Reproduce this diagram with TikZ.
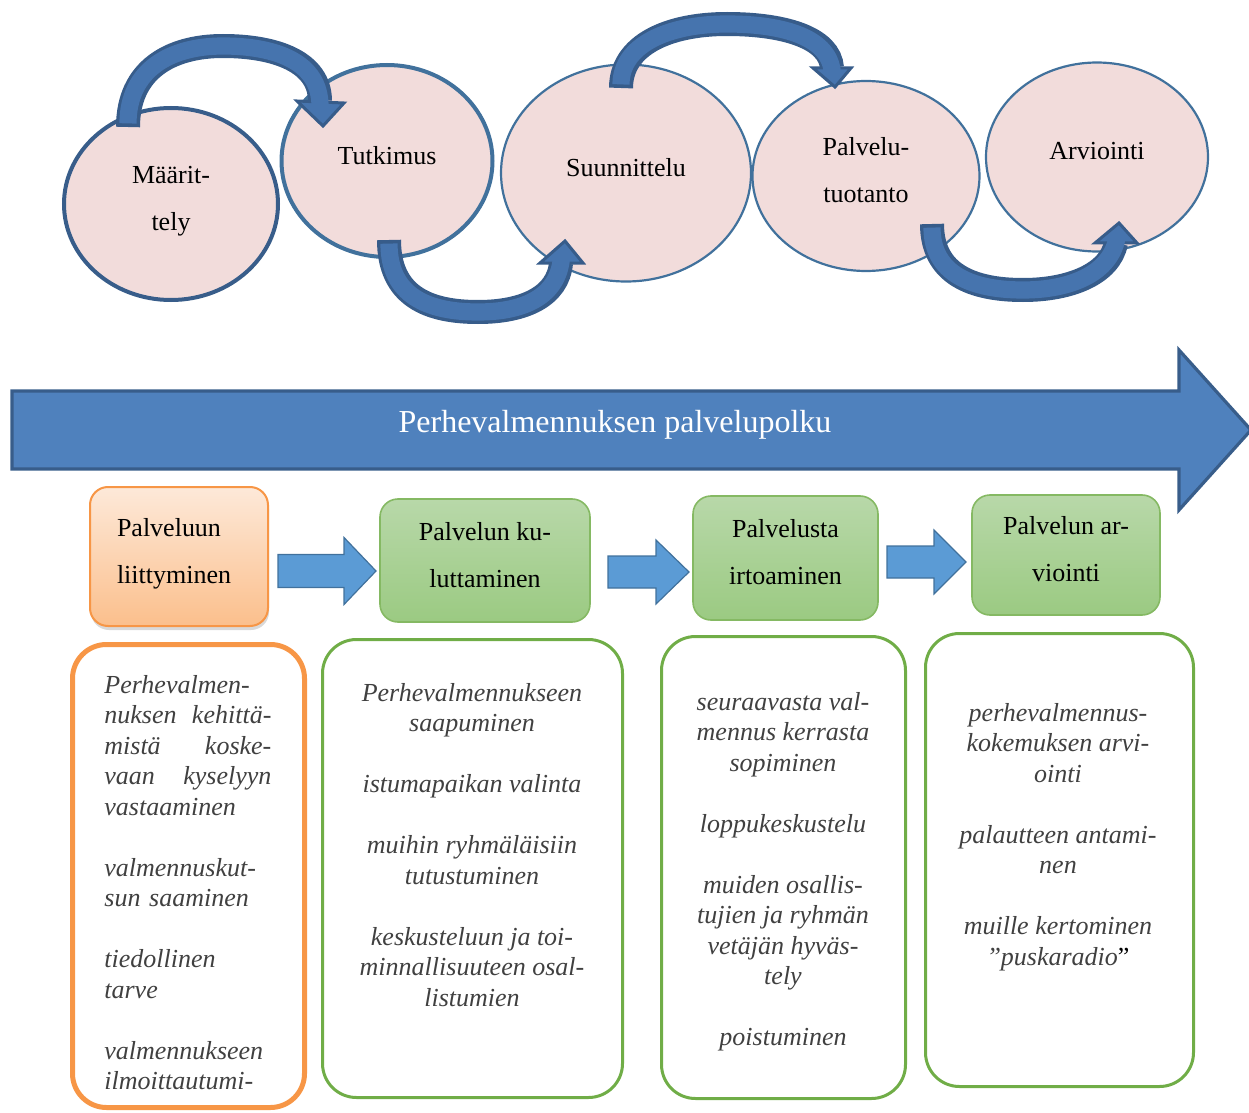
\documentclass[tikz,border=0pt]{standalone}
\usepackage{fontspec}
\setmainfont{Liberation Serif}
\usetikzlibrary{shapes.geometric,shadows}
\definecolor{ellfill}{HTML}{F2DCDB}
\definecolor{ellline}{HTML}{41719C}
\definecolor{ellline1}{HTML}{385D8A}
\definecolor{arrdark}{HTML}{375C8A}
\definecolor{arrmid}{HTML}{4674AE}
\definecolor{bigfill}{HTML}{4F81BD}
\definecolor{bigline}{HTML}{385D8A}
\definecolor{orline}{HTML}{F79646}
\definecolor{ortop}{HTML}{FDE9D9}
\definecolor{orbot}{HTML}{FBBF8C}
\definecolor{grline}{HTML}{70AD47}
\definecolor{grtop}{HTML}{B8D8A9}
\definecolor{grbot}{HTML}{9BCA82}
\definecolor{barfill}{HTML}{5B9BD5}
\definecolor{barline}{HTML}{41719C}
\definecolor{txtgray}{HTML}{404040}
\tikzset{
  ell/.style={ellipse, draw=ellline, fill=ellfill, line width=1.1pt, inner sep=0pt,
    align=center, font=\fontsize{13}{23.5}\selectfont, text depth=6pt},
  cshaftout/.style={draw=arrdark, line width=12pt},
  cshaftin/.style={draw=arrmid, line width=8.6pt, shorten <=1.8pt, shorten >=-2.5pt},
  chead/.style={fill=arrmid, draw=arrdark, line width=1.5pt, line join=miter},
  bigarrow/.style={fill=bigfill, draw=bigline, line width=1.6pt},
  obox/.style={rectangle, rounded corners=9pt, draw=orline, line width=1pt,
    top color=ortop, bottom color=orbot, align=left, text width=62pt,
    font=\fontsize{13}{23.5}\selectfont, text depth=29.5pt,
    drop shadow={shadow xshift=0.5pt, shadow yshift=-2pt, opacity=0.15, fill=black}},
  gbox/.style={rectangle, rounded corners=9pt, draw=grline!85, line width=0.8pt,
    top color=grtop, bottom color=grbot, align=center,
    font=\fontsize{13}{23.5}\selectfont, text depth=6pt},
  barr/.style={fill=barfill, draw=barline, line width=0.6pt},
  tbox/.style={rectangle, rounded corners=17pt, draw=grline, line width=1.5pt},
  ttext/.style={inner sep=0pt, text=txtgray, font=\itshape\fontsize{13}{15.25}\selectfont}
}
\begin{document}
\begin{tikzpicture}[x=0.5pt,y=0.5pt]
\useasboundingbox (0,0) rectangle (1249,-1113);

% ellipses
\node[ell, draw=ellline1, line width=2pt, minimum width=107pt, minimum height=96pt] (e1) at (171,-204) {Määrit-\\tely};
\node[ell, line width=2pt, minimum width=105.5pt, minimum height=96pt] (e2) at (387,-161) {Tutkimus};
\node[ell, minimum width=125pt, minimum height=108.5pt] (e3) at (626,-173) {Suunnittelu};
\node[ell, minimum width=113.5pt, minimum height=95pt] (e4) at (866,-176) {Palvelu-\\tuotanto};
\node[ell, minimum width=111pt, minimum height=94.5pt] (e5) at (1097,-157) {Arviointi};

% curved arrows
\coordinate (a1s) at (128,-127); \coordinate (a1e) at (320,-101);
\coordinate (a1l) at (297,-101); \coordinate (a1t) at (323,-126); \coordinate (a1r) at (344,-103);
\draw[cshaftout] (a1s) .. controls (128,-70) and (170,-46) .. (223,-46) .. controls (276,-46) and (320,-62) .. (a1e);
\filldraw[chead] (a1l) -- (a1t) -- (a1r) -- cycle;
\draw[cshaftin] (a1s) .. controls (128,-70) and (170,-46) .. (223,-46) .. controls (276,-46) and (320,-62) .. (a1e);

\coordinate (a2s) at (389,-240); \coordinate (a2e) at (561,-263);
\coordinate (a2l) at (540,-263); \coordinate (a2t) at (565,-241); \coordinate (a2r) at (583,-263);
\draw[cshaftout] (a2s) .. controls (389,-296) and (428,-312) .. (478,-312) .. controls (525,-312) and (558,-296) .. (a2e);
\filldraw[chead] (a2l) -- (a2t) -- (a2r) -- cycle;
\draw[cshaftin] (a2s) .. controls (389,-296) and (428,-312) .. (478,-312) .. controls (525,-312) and (558,-296) .. (a2e);

\coordinate (a3s) at (621,-88); \coordinate (a3e) at (832,-68);
\coordinate (a3l) at (813,-68); \coordinate (a3t) at (835,-87); \coordinate (a3r) at (851,-68);
\draw[cshaftout] (a3s) .. controls (621,-45) and (668,-24) .. (727,-24) .. controls (785,-24) and (830,-38) .. (a3e);
\filldraw[chead] (a3l) -- (a3t) -- (a3r) -- cycle;
\draw[cshaftin] (a3s) .. controls (621,-45) and (668,-24) .. (727,-24) .. controls (785,-24) and (830,-38) .. (a3e);

\coordinate (a4s) at (932,-224); \coordinate (a4e) at (1116,-243);
\coordinate (a4l) at (1095,-243); \coordinate (a4t) at (1119,-223); \coordinate (a4r) at (1137,-243);
\draw[cshaftout] (a4s) .. controls (932,-274) and (972,-290) .. (1023,-290) .. controls (1070,-290) and (1110,-274) .. (a4e);
\filldraw[chead] (a4l) -- (a4t) -- (a4r) -- cycle;
\draw[cshaftin] (a4s) .. controls (932,-274) and (972,-290) .. (1023,-290) .. controls (1070,-290) and (1110,-274) .. (a4e);

% big arrow
\draw[bigarrow] (12,-391) -- (1179,-391) -- (1179,-350) -- (1251,-430) -- (1179,-510) -- (1179,-469) -- (12,-469) -- cycle;
\node[text=white, font=\fontsize{16}{19}\selectfont] (title) at (615,-425) {Perhevalmennuksen palvelupolku};

% middle boxes
\node[obox, minimum width=89pt, minimum height=69.5pt] (m0) at (179,-556.5) {Palveluun\\liittyminen};
\node[gbox, minimum width=105pt, minimum height=61.5pt] (m1) at (485,-560.5) {Palvelun ku-\\luttaminen};
\node[gbox, minimum width=92.5pt, minimum height=62pt] (m2) at (785.5,-558) {Palvelusta\\irtoaminen};
\node[gbox, minimum width=94pt, minimum height=60pt] (m3) at (1066,-555) {Palvelun ar-\\viointi};

% block arrows
\draw[barr] (278,-554.5) -- (344,-554.5) -- (344,-537.5) -- (376,-571) -- (344,-604.5) -- (344,-587.5) -- (278,-587.5) -- cycle;
\draw[barr] (608,-556) -- (656,-556) -- (656,-540) -- (689,-572) -- (656,-604) -- (656,-588) -- (608,-588) -- cycle;
\draw[barr] (887,-546) -- (934,-546) -- (934,-530) -- (966,-562) -- (934,-594) -- (934,-578) -- (887,-578) -- cycle;

% bottom boxes
\node[tbox, draw=orline, line width=2.5pt, minimum width=116pt, minimum height=231.5pt] (b0) at (188.5,-876) {};
\node[tbox, minimum width=150pt, minimum height=229pt] (b1) at (472.5,-868.5) {};
\node[tbox, minimum width=122pt, minimum height=231pt] (b2) at (783.5,-867.5) {};
\node[tbox, minimum width=134pt, minimum height=226.5pt] (b3) at (1059.5,-860) {};

\node[ttext, anchor=north west, text width=83.5pt, align=left] (t0) at (104,-675) {Perhevalmen-\\
nuksen\hfill kehittä-\\
mistä\hfill koske-\\
vaan\hfill kyselyyn\\
vastaaminen\\[15.25pt]
valmennuskut-\\
sun saaminen\\[15.25pt]
tiedollinen\\
tarve\\[15.25pt]
valmennukseen\\
ilmoittautumi-};

\node[ttext, anchor=north, align=center] (t1) at (472,-683) {Perhevalmennukseen\\saapuminen\\[15.25pt]istumapaikan valinta\\[15.25pt]muihin ryhmäläisiin\\tutustuminen\\[15.25pt]keskusteluun ja toi-\\minnallisuuteen osal-\\listumien};

\node[ttext, anchor=north, align=center] (t2) at (783,-692) {seuraavasta val-\\mennus kerrasta\\sopiminen\\[15.25pt]loppukeskustelu\\[15.25pt]muiden osallis-\\tujien ja ryhmän\\vetäjän hyväs-\\tely\\[15.25pt]poistuminen};

\node[ttext, anchor=north, align=center] (t3) at (1058,-703) {perhevalmennus-\\kokemuksen arvi-\\ointi\\[15.25pt]palautteen antami-\\nen\\[15.25pt]muille kertominen\\”puskaradio{\upshape\color{black}”}};

\end{tikzpicture}
\end{document}
